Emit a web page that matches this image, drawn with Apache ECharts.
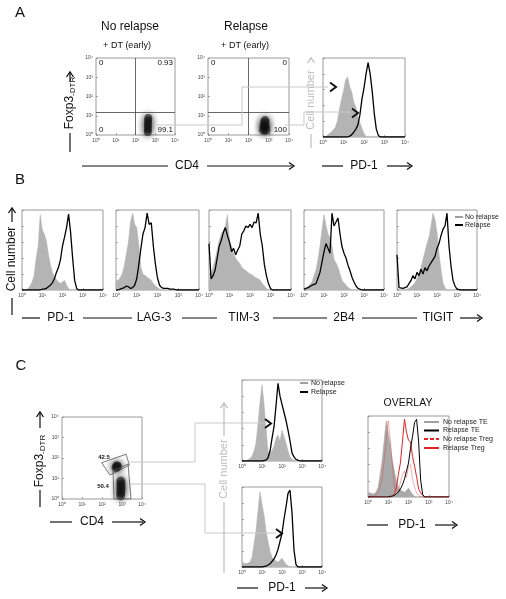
<!DOCTYPE html>
<html><head><meta charset="utf-8">
<script src="https://cdn.jsdelivr.net/npm/echarts@6/dist/echarts.min.js"></script>
<style>html,body{margin:0;padding:0;background:#fff}#c{width:506px;height:599px}</style>
</head><body><div id="c"></div>
<script>
// ---------- DATA ----------
const logSteps = [0,0.1,0.2,0.3,0.4,0.5,0.6,0.7,0.8,0.9,1.0,1.1,1.2,1.3,1.4,1.5,1.6,1.7,1.8,1.9,2.0,2.1,2.2,2.3,2.4,2.5,2.6,2.7,2.8,2.9,3.0,3.1,3.2,3.3,3.4,3.5,3.6,3.7,3.8,3.9,4.0];
const decadeLabels = ['10\u2070','10\u00b9','10\u00b2','10\u00b3','10\u2074'];

// Panel A histogram (PD-1)
const aPD1Gray  = [0,0,2,4,6,9,12,20,35,47, 58,72,76,64,57,44,38,26,18,11, 4,1,0,0,0,0,0,0,0,0, 0,0,0,0,0,0,0,0,0,0,0];
const aPD1Black = [0,0,0,0,0,0,0,0,0,0, 0,0,0,1,3,6,10,15,28,48, 62,80,94,80,58,30,10,2,0,0, 0,0,0,0,0,0,0,0,0,0,0];

// Panel B histograms
const bPD1Gray   = [0,0,0,2,5,10,18,40,55,94, 75,70,62,45,32,22,16,13,10,8, 10,12,6,2,0,0,0,0,0,0, 0,0,0,0,0,0,0,0,0,0,0];
const bPD1Black  = [0,0,0,0,0,0,0,0,0,0, 1,1,2,4,6,9,14,22,28,38, 55,66,78,95,72,40,12,2,0,0, 0,0,0,0,0,0,0,0,0,0,0];
const bLAG3Gray  = [12,12,15,20,30,45,60,85,96,82, 78,55,28,20,18,16,14,12,8,5, 3,1,0,0,0,0,0,0,0,0, 0,0,0,0,0,0,0,0,0,0,0];
const bLAG3Black = [0,0,1,2,3,5,4,2,3,6, 14,32,52,70,78,96,82,84,55,32, 15,6,3,2,2,2,1,1,1,0, 0,0,0,0,0,0,0,0,0,0,0];
const bTIM3Gray  = [10,20,28,38,50,62,70,74,80,94, 60,55,45,40,36,33,28,26,24,22, 20,19,17,15,14,12,8,5,2,0, 0,0,0,0,0,0,0,0,0,0,0];
const bTIM3Black = [58,14,18,25,40,55,62,72,78,68, 60,48,52,44,50,55,70,74,80,78, 82,78,85,84,96,70,55,32,18,8, 2,0,0,0,0,0,0,0,0,0,0];
const b2B4Gray   = [1,2,4,6,10,18,25,38,55,75, 94,80,70,65,55,38,34,28,20,12, 9,6,3,1,0,0,0,0,0,0, 0,0,0,0,0,0,0,0,0,0,0];
const b2B4Black  = [1,2,3,4,6,5,8,15,22,35, 48,58,60,46,96,80,78,90,70,54, 46,40,31,24,16,10,5,2,0,0, 0,0,0,0,0,0,0,0,0,0,0];
const bTIGITGray = [0,0,0,0,0,0,2,4,6,9, 14,20,28,38,48,58,66,80,96,88, 72,45,25,8,3,0,0,0,0,0, 0,0,0,0,0,0,0,0,0,0,0];
const bTIGITBlack= [44,3,2,2,2,4,8,12,18,14, 22,18,26,20,28,24,30,28,38,42, 52,58,68,76,80,96,55,30,12,5, 1,0,0,0,0,0,0,0,0,0,0];

// Panel C histograms (upper = Treg gate, lower = TE gate)
const cUpperGray  = [0,0,0,0,3,6,12,22,45,72, 94,70,40,12,8,7,18,28,32,24, 38,40,22,12,5,2,0,0,0,0, 0,0,0,0,0,0,0,0,0,0,0];
const cUpperBlack = [0,0,0,0,0,0,0,0,0,0, 0,0,1,4,12,28,42,68,96,80, 70,68,50,38,25,10,5,2,0,0, 0,0,0,0,0,0,0,0,0,0,0];
const cLowerGray  = [6,5,4,4,6,12,28,45,70,94, 78,65,45,32,20,12,9,7,6,8, 11,7,3,1,0,0,0,0,0,0, 0,0,0,0,0,0,0,0,0,0,0];
const cLowerBlack = [0,0,0,0,0,0,0,0,0,0, 0,1,1,2,4,6,10,15,22,32, 42,60,75,92,96,68,21,3,0,0, 0,0,0,0,0,0,0,0,0,0,0];

// Dot plots (log10 CD4, log10 Foxp3)
const aNoRelapseBlob = [[2.62,0.15],[2.63,0.3],[2.63,0.45],[2.63,0.6],[2.64,0.75],[2.65,0.88]];
const aRelapseBlob   = [[2.74,0.25],[2.86,0.25],[2.76,0.45],[2.84,0.45],[2.8,0.65],[2.82,0.75]];
const cTregBlob = [[2.7,1.52],[2.78,1.58],[2.74,1.62]];
const cTeffBlob = [[2.93,0.15],[2.94,0.3],[2.95,0.45],[2.95,0.6],[2.95,0.75],[2.94,0.88]];
const cTregGate = [[1.98,1.77],[3.2,2.18],[3.37,1.66],[2.4,1.17],[1.98,1.77]];
const cTeffGate = [[2.55,1.37],[3.3,1.71],[3.45,0],[2.6,0],[2.55,1.37]];
const quadX = 2, quadY = 1.2;
const aNoRelapseQuad = ['0','0.93','0','99.1'];
const aRelapseQuad   = ['0','0','0','100'];
const cGatePct = ['42.5','50.4'];
const bMarkers = ['PD-1','LAG-3','TIM-3','2B4','TIGIT'];

// ---------- LAYOUT ----------
const FONT = "'Liberation Sans', Arial, sans-serif";
const GRAY = '#b4b4b4', CONN = '#c9c9c9', LGRAY = '#bdbdbd';
const grids = [
  {left:96, top:58, width:79, height:77},   //0 A1
  {left:208,top:58, width:81, height:77},   //1 A2
  {left:323,top:58, width:82, height:79},   //2 A3
  {left:22, top:210,width:81, height:80},   //3 B1
  {left:116,top:210,width:83, height:80},   //4 B2
  {left:209,top:210,width:82, height:80},   //5 B3
  {left:304,top:210,width:80, height:80},   //6 B4
  {left:397,top:210,width:80, height:80},   //7 B5
  {left:62, top:417,width:80, height:82},   //8 C dot
  {left:242,top:380,width:80, height:81},   //9 C up
  {left:242,top:487,width:80, height:80},   //10 C low
  {left:368,top:416,width:81, height:81}    //11 overlay
].map(g => Object.assign({show:true, borderColor:'#9a9a9a', borderWidth:1, backgroundColor:'transparent'}, g));

const tickStyle = {color:'#777', width:0.6};
function decadeX(gi){ return {type:'value', gridIndex:gi, min:0, max:4, interval:1,
  axisLine:{show:false}, splitLine:{show:false},
  axisTick:{show:true, inside:true, length:2, lineStyle:tickStyle},
  axisLabel:{show:true, fontSize:5, fontFamily:FONT, color:'#444', margin:3, formatter:v=>decadeLabels[Math.round(v)]}}; }
function decadeY(gi){ return {type:'value', gridIndex:gi, min:0, max:4, interval:1,
  axisLine:{show:false}, splitLine:{show:false},
  axisTick:{show:true, inside:true, length:2, lineStyle:tickStyle},
  axisLabel:{show:true, fontSize:5, fontFamily:FONT, color:'#444', margin:3, formatter:v=>decadeLabels[Math.round(v)]}}; }
function countY(gi){ return {type:'value', gridIndex:gi, min:0, max:100, interval:20,
  axisLine:{show:false}, splitLine:{show:false},
  axisTick:{show:true, inside:true, length:2, lineStyle:tickStyle}, axisLabel:{show:false}}; }

const pairs = arr => arr.map((v,i)=>[logSteps[i], v]);
function fillS(gi, arr, color){ return {type:'line', xAxisIndex:gi, yAxisIndex:gi, data:pairs(arr), symbol:'none',
  lineStyle:{width:0.6, color:color}, itemStyle:{color:color}, areaStyle:{color:color, opacity:1}, silent:true, z:2}; }
function lineS(gi, arr, color, width, dash){ return {type:'line', xAxisIndex:gi, yAxisIndex:gi, data:pairs(arr), symbol:'none',
  lineStyle:{width:width, color:color, type:dash||'solid'}, itemStyle:{color:color}, silent:true, z:3}; }
function blobS(gi, pts, size){ return {type:'scatter', xAxisIndex:gi, yAxisIndex:gi, data:pts, symbolSize:size,
  itemStyle:{color:'rgba(20,20,20,0.75)', shadowBlur:7, shadowColor:'rgba(0,0,0,0.8)'}, silent:true, z:3}; }
function quadS(gi){ return {type:'scatter', xAxisIndex:gi, yAxisIndex:gi, data:[], silent:true,
  markLine:{silent:true, symbol:['none','none'], label:{show:false}, animation:false,
    lineStyle:{color:'#444', width:0.8, type:'solid'}, data:[{xAxis:quadX},{yAxis:quadY}]}}; }
function gateS(gi, pts){ return {type:'line', xAxisIndex:gi, yAxisIndex:gi, data:pts, symbol:'none',
  lineStyle:{color:'#555', width:0.8}, silent:true, z:4}; }

const series = [
  quadS(0), blobS(0, aNoRelapseBlob, 8),
  quadS(1), blobS(1, aRelapseBlob, 9),
  fillS(2, aPD1Gray, GRAY), lineS(2, aPD1Black, '#000', 1.3),
  fillS(3, bPD1Gray, GRAY), lineS(3, bPD1Black, '#000', 1.3),
  fillS(4, bLAG3Gray, GRAY), lineS(4, bLAG3Black, '#000', 1.3),
  fillS(5, bTIM3Gray, GRAY), lineS(5, bTIM3Black, '#000', 1.3),
  fillS(6, b2B4Gray, GRAY), lineS(6, b2B4Black, '#000', 1.3),
  fillS(7, bTIGITGray, GRAY), lineS(7, bTIGITBlack, '#000', 1.3),
  blobS(8, cTregBlob, 9), blobS(8, cTeffBlob, 9), gateS(8, cTregGate), gateS(8, cTeffGate),
  fillS(9, cUpperGray, GRAY), lineS(9, cUpperBlack, '#000', 1.3),
  fillS(10, cLowerGray, GRAY), lineS(10, cLowerBlack, '#000', 1.3),
  fillS(11, cLowerGray, '#a9a9a9'), lineS(11, cUpperGray, 'rgba(225,60,60,0.45)', 0.9),
  lineS(11, cUpperBlack, '#e02424', 1.0), lineS(11, cLowerBlack, '#000', 1.0)
];

// ---------- ANNOTATIONS ----------
const G = [];
function txt(x,y,t,size,o){ o=o||{}; G.push({type:'text', x:x, y:y, rotation:o.rot||0, silent:true, z:20,
  style:{text:t, fontSize:size, fontFamily:FONT, fontWeight:o.w||'normal', fill:o.color||'#111',
    align:o.align||'center', verticalAlign:'middle', rich:o.rich}}); }
function ln(x1,y1,x2,y2,c,w){ G.push({type:'line', silent:true, z:15, shape:{x1,y1,x2,y2}, style:{stroke:c||'#111', lineWidth:w||1.2}}); }
function pl(pts,c,w,dash){ G.push({type:'polyline', silent:true, z:15, shape:{points:pts}, style:{stroke:c||'#111', lineWidth:w||1, fill:null, lineDash:dash||null}}); }
function arrowR(x,y,c){ pl([[x-5,y-3.5],[x,y],[x-5,y+3.5]], c||'#111', 1.3); }
function arrowU(x,y,c){ pl([[x-3.5,y+5],[x,y],[x+3.5,y+5]], c||'#111', 1.3); }
function chev(x,y){ pl([[x,y-4.5],[x+6,y],[x,y+4.5]], '#111', 2); }

// panel letters
txt(20,13,'A',15); txt(20,180,'B',15); txt(21,366,'C',15);
// A titles
txt(130,27,'No relapse',12); txt(127,46,'+ DT (early)',9);
txt(246,27,'Relapse',12);   txt(245,46,'+ DT (early)',9);
// A quadrant numbers
[[0,96,175],[1,208,289]].forEach(([k,l,r])=>{
  const q = k===0 ? aNoRelapseQuad : aRelapseQuad;
  txt(l+3,63,q[0],8,{align:'left'}); txt(r-2,63,q[1],8,{align:'right'});
  txt(l+3,130,q[2],8,{align:'left'}); txt(r-2,130,q[3],8,{align:'right'});
});
// Foxp3 label (A)
const foxRich = {a:{fontSize:12, fontFamily:FONT, fill:'#111'}, b:{fontSize:8, fontFamily:FONT, fill:'#111', padding:[5,0,0,0]}};
txt(70,103,'{a|Foxp3}{b|-DTR}',12,{rot:Math.PI/2, rich:foxRich});
ln(70,82,70,72); arrowU(70,72); ln(70,133,70,152);
// CD4 (A)
txt(187,166,'CD4',12); ln(82,166,168,166); ln(207,166,292,166); arrowR(294,166);
// PD-1 (A)
txt(364,166,'PD-1',12); ln(322,166,343,166); ln(387,166,410,166); arrowR(412,166);
// gray Cell number (A)
txt(311,100,'Cell number',11,{rot:Math.PI/2, color:LGRAY}); arrowU(311,58,LGRAY); ln(311,134,311,148,LGRAY,1.2);
// A connectors
pl([[157,125],[242,125],[242,87],[328,87]], CONN, 1);
pl([[285,125],[304,125],[304,112],[350,112]], CONN, 1);
chev(330,87); chev(352,113);

// B
txt(12,259,'Cell number',12,{rot:Math.PI/2}); ln(12,222,12,208); arrowU(12,208); ln(12,298,12,315);
const bCenters = [61,154,244,344,438];
bMarkers.forEach((m,i)=>txt(bCenters[i],318,m,12));
[[22,40],[83,132],[182,217],[273,327],[362,417],[460,480]].forEach(([a,b])=>ln(a,318,b,318));
arrowR(482,318);
// B legend
ln(455,217,463,217,'#a0a0a0',2); txt(465,217,'No relapse',7,{align:'left',color:'#222'});
ln(455,225,463,225,'#000',2);    txt(465,225,'Relapse',7,{align:'left',color:'#222'});

// C dot plot labels
txt(40,461,'{a|Foxp3}{b|-DTR}',12,{rot:Math.PI/2, rich:foxRich});
ln(40,428,40,412); arrowU(40,412); ln(40,490,40,507);
txt(92,522,'CD4',12); ln(50,522,72,522); ln(112,522,143,522); arrowR(145,522);
txt(104,457,cGatePct[0],6,{w:'bold'}); txt(103,486,cGatePct[1],6,{w:'bold'});
// C connectors
pl([[130,462],[195,462],[195,423],[265,423]], CONN, 1);
pl([[131,484],[205,484],[205,533],[276,533]], CONN, 1);
chev(265,423.5); chev(276,533.5);
// C gray Cell number
txt(224,469,'Cell number',11,{rot:Math.PI/2, color:LGRAY}); ln(224,436,224,404,LGRAY,1.2); arrowU(224,403,LGRAY); ln(224,502,224,573,LGRAY,1.2);
// C upper legend
ln(300,383,308,383,'#a0a0a0',2); txt(311,383,'No relapse',7,{align:'left',color:'#222'});
ln(300,392,308,392,'#000',2);    txt(311,392,'Relapse',7,{align:'left',color:'#222'});
// C PD-1
txt(282,588,'PD-1',12); ln(237,588,258,588); ln(305,588,325,588); arrowR(327,588);
// Overlay
txt(408,403,'OVERLAY',10.5);
ln(424,422,439,422,'#a0a0a0',2); txt(443,422,'No relapse TE',7,{align:'left',color:'#222'});
ln(424,430.5,439,430.5,'#000',2); txt(443,430.5,'Relapse TE',7,{align:'left',color:'#222'});
pl([[424,439],[439,439]],'#e02424',2,[4,2]); txt(443,439,'No relapse Treg',7,{align:'left',color:'#222'});
ln(424,448,439,448,'#e02424',2); txt(443,448,'Relapse Treg',7,{align:'left',color:'#222'});
txt(412,525,'PD-1',12); ln(367,525,388,525); ln(435,525,455,525); arrowR(457,525);

const chart = echarts.init(document.getElementById('c'), null, {renderer:'canvas'});
chart.setOption({
  animation:false,
  backgroundColor:'#fff',
  textStyle:{fontFamily:FONT},
  grid:grids,
  xAxis:grids.map((g,i)=>decadeX(i)),
  yAxis:grids.map((g,i)=>(i===0||i===1||i===8) ? decadeY(i) : countY(i)),
  series:series,
  graphic:G
});
</script></body></html>
